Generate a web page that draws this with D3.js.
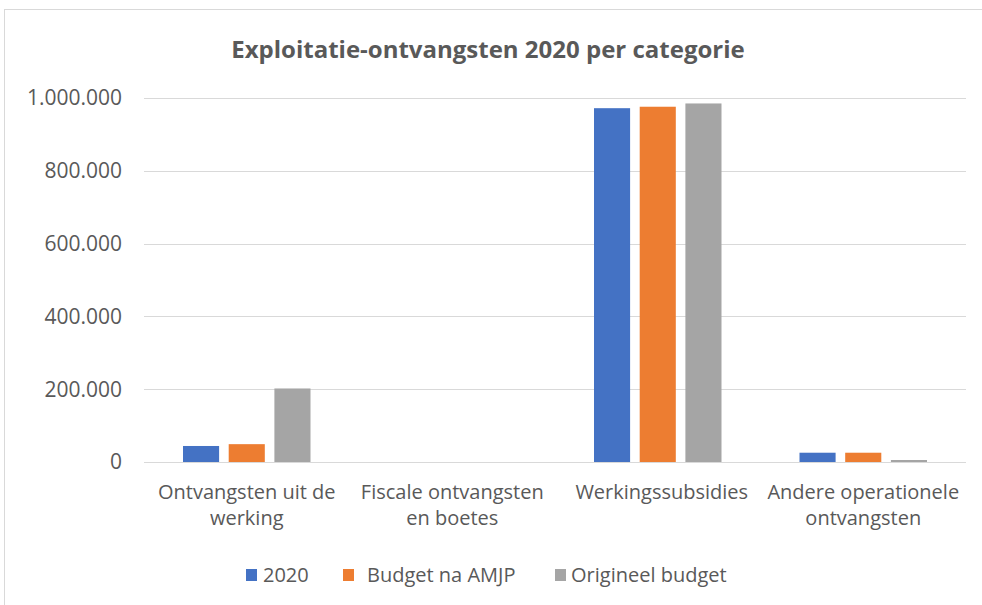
<!DOCTYPE html>
<meta charset="utf-8">
<script src="https://d3js.org/d3.v7.min.js"></script>
<style>
body { margin: 0; background: #fff; }
text { font-family: "Open Sans", sans-serif; fill: #595959; }
</style>
<div id="chart"></div>
<script>

// data
var categories = [["Ontvangsten uit de", "werking"], ["Fiscale ontvangsten", "en boetes"], ["Werkingssubsidies"], ["Andere operationele", "ontvangsten"]];
var series = ["2020", "Budget na AMJP", "Origineel budget"];
var values2020 = [44000, 0, 972000, 25500];
var valuesAmjp = [49000, 0, 976000, 25500];
var valuesOrig = [202000, 0, 985000, 5500];
var yTicks = [0, 200000, 400000, 600000, 800000, 1000000];
var colors = ["#4472c4", "#ed7d31", "#a5a5a5"];

var W = 982, H = 605;
var margin = {top: 98, right: 16, bottom: 143, left: 144};
var width = W - margin.left - margin.right,
    height = H - margin.top - margin.bottom;

var svg = d3.select("#chart").append("svg")
  .attr("width", W).attr("height", H);

// chart border
svg.append("rect")
  .attr("x", 4.5).attr("y", 9.5)
  .attr("width", W + 10).attr("height", H + 10)
  .attr("fill", "none").attr("stroke", "#d9d9d9");

svg.append("text")
  .attr("x", 488).attr("y", 58)
  .attr("text-anchor", "middle")
  .style("font-size", "24px").style("font-weight", "bold")
  .text("Exploitatie-ontvangsten 2020 per categorie");

var g = svg.append("g").attr("transform", "translate(" + margin.left + "," + margin.top + ")");

var y = d3.scaleLinear().domain([0, 1000000]).range([height, 0]);
var x0 = d3.scaleBand().domain(d3.range(categories.length)).range([0, width]);
var x1 = d3.scaleBand().domain(series).range([39, x0.bandwidth() - 39]).paddingInner(0.21);

// gridlines
g.selectAll(".grid").data(yTicks).enter().append("line")
  .attr("x1", 0).attr("x2", width)
  .attr("y1", function(d) { return Math.round(y(d)) + 0.5; })
  .attr("y2", function(d) { return Math.round(y(d)) + 0.5; })
  .attr("stroke", "#d9d9d9").attr("stroke-width", 1);

var fmt = function(d) { return d3.format(",")(d).replace(/,/g, "."); };
g.selectAll(".ylab").data(yTicks).enter().append("text")
  .attr("x", -22).attr("y", function(d) { return y(d); })
  .attr("dy", "0.35em").attr("text-anchor", "end")
  .style("font-size", "21px")
  .text(fmt);

var rows = [values2020, valuesAmjp, valuesOrig];
series.forEach(function(s, i) {
  g.selectAll(".bar" + i).data(rows[i]).enter().append("rect")
    .attr("x", function(d, j) { return x0(j) + x1(s); })
    .attr("width", x1.bandwidth())
    .attr("y", function(d) { return y(d); })
    .attr("height", function(d) { return height - y(d); })
    .attr("fill", colors[i]);
});

// category labels
var cl = g.selectAll(".cat").data(categories).enter().append("text")
  .attr("text-anchor", "middle")
  .attr("transform", function(d, j) { return "translate(" + (x0(j) + x0.bandwidth() / 2 + (j == 2 ? 4 : 0)) + "," + (height + 37) + ")"; })
  .style("font-size", "20px");
cl.selectAll("tspan").data(function(d) { return d; }).enter().append("tspan")
  .attr("x", 0).attr("dy", function(d, k) { return k ? 26 : 0; })
  .text(function(d) { return d; });

// legend
var legX = [246, 343, 555];
var legT = [17, 24, 16];
var leg = svg.selectAll(".leg").data(series).enter().append("g")
  .attr("transform", function(d, i) { return "translate(" + legX[i] + ",569)"; });
leg.append("rect").attr("width", 11).attr("height", 12)
  .attr("fill", function(d, i) { return colors[i]; });
leg.append("text").attr("x", function(d, i) { return legT[i]; }).attr("y", 6)
  .attr("dy", "0.35em").style("font-size", "20px")
  .text(function(d) { return d; });
</script>
